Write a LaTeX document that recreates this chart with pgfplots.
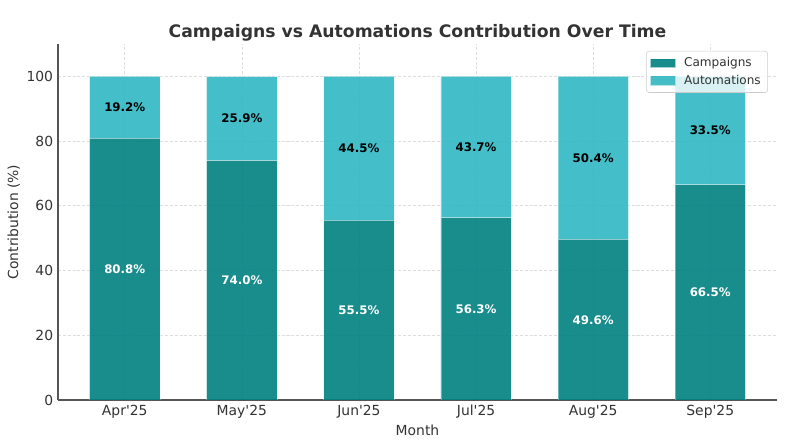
\documentclass[border=0pt]{standalone}
\usepackage{fontspec}
\setmainfont{DejaVu Sans}
\usepackage{pgfplots}
\usepackage{pgfplotstable}
\pgfplotsset{compat=1.18}
\definecolor{camp}{HTML}{008080}
\definecolor{autom}{HTML}{30B7C2}
\definecolor{txt}{HTML}{333333}
\definecolor{gridc}{HTML}{DDDDDD}
\definecolor{spine}{HTML}{555555}
\definecolor{legc}{HTML}{CCCCCC}

\pgfplotstableread{
x c a
0 80.8 19.2
1 74.0 25.9
2 55.5 44.5
3 56.3 43.7
4 49.6 50.4
5 66.5 33.5
}\datatable

\pgfplotstableread{
x y v
0 40.4 80.8
1 37.0 74.0
2 27.75 55.5
3 28.15 56.3
4 24.8 49.6
5 33.25 66.5
}\camplabels

\pgfplotstableread{
x y v
0 90.4 19.2
1 86.95 25.9
2 77.75 44.5
3 78.15 43.7
4 74.8 50.4
5 83.25 33.5
}\autolabels

\begin{document}
\begin{tikzpicture}
\begin{axis}[
  scale only axis,
  width=517.68pt, height=256.32pt,
  xmin=-0.57, xmax=5.57,
  ymin=0, ymax=110,
  ybar stacked,
  bar width=0.6,
  axis x line*=bottom,
  axis y line*=left,
  axis line style={spine, line width=0.8pt},
  xtick={0,1,2,3,4,5},
  xticklabels={Apr\textquotesingle25,May\textquotesingle25,Jun\textquotesingle25,Jul\textquotesingle25,Aug\textquotesingle25,Sep\textquotesingle25},
  ytick={0,20,40,60,80,100},
  major tick length=0pt,
  tick style={draw=none},
  xmajorgrids, ymajorgrids,
  grid style={gridc, line width=0.5pt, dash pattern=on 2.2pt off 1.3pt},
  /pgf/number format/assume math mode=true,
  tick label style={font=\fontsize{10}{12}\selectfont, text=txt},
  xlabel={Month},
  ylabel={Contribution (\%)},
  label style={font=\fontsize{10}{12}\selectfont, text=txt},
  xlabel style={at={(axis description cs:0.5,0)}, anchor=center, yshift=-21.6pt},
  ylabel style={at={([xshift=-31.8pt]axis description cs:0,0.5)}, anchor=center},
  every axis title shift=0pt,
  title={Campaigns vs Automations Contribution Over Time},
  title style={at={(axis description cs:0.5,1)}, anchor=base, yshift=5pt, font=\fontsize{12.4}{14}\selectfont\bfseries, text=txt},
  legend style={at={(1,1)}, anchor=north east, xshift=-6.5pt, yshift=-5pt,
    draw=legc, rounded corners=2pt, fill=white, fill opacity=0.8, text opacity=1,
    font=\fontsize{8.7}{10}\selectfont, text=txt, row sep=0.5pt, inner xsep=3pt, inner ysep=2.5pt},
  legend cell align=left,
]
\addplot[fill=camp, fill opacity=0.9, draw=white, draw opacity=0.35, line width=0.5pt,
  legend image code/.code={\fill[camp, fill opacity=0.9, sharp corners] (0pt,-3.05pt) rectangle (17.4pt,3.05pt); \path (21.7pt,0pt);}]
  table[x=x, y=c]{\datatable};
\addlegendentry{Campaigns}
\addplot[fill=autom, fill opacity=0.9, draw=white, draw opacity=0.35, line width=0.5pt,
  legend image code/.code={\fill[autom, fill opacity=0.9, sharp corners] (0pt,-3.05pt) rectangle (17.4pt,3.05pt); \path (21.7pt,0pt);}]
  table[x=x, y=a]{\datatable};
\addlegendentry{Automations}
\end{axis}
\begin{axis}[
  scale only axis,
  width=517.68pt, height=256.32pt,
  xmin=-0.57, xmax=5.57,
  ymin=0, ymax=110,
  hide axis,
  nodes near coords={\pgfmathprintnumber[fixed, precision=1, fixed zerofill, assume math mode=true]{\pgfplotspointmeta}\%},
  point meta=explicit,
  every node near coord/.append style={anchor=center, font=\fontsize{8.5}{10}\selectfont\bfseries},
]
\addplot[draw=none, mark=none, every node near coord/.append style={text=white}]
  table[x=x, y=y, meta=v]{\camplabels};
\addplot[draw=none, mark=none, every node near coord/.append style={text=black}]
  table[x=x, y=y, meta=v]{\autolabels};
\end{axis}
\pgfresetboundingbox
\path[use as bounding box] (-41.76pt,-30.24pt) rectangle (526.32pt,288pt);
\end{tikzpicture}
\end{document}
